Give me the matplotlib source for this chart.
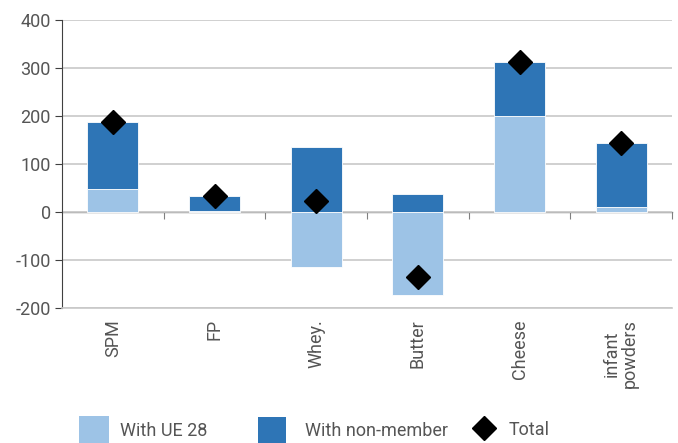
import matplotlib
matplotlib.use("Agg")
import matplotlib.pyplot as plt
from matplotlib.patches import Patch
from matplotlib.lines import Line2D
import numpy as np

categories = ["SPM", "FP", "Whey.", "Butter", "Cheese", "infant\npowders"]
ue28 = [47, 3, -114, -173, 200, 10]
non_member = [141, 30, 136, 37, 112, 133]
total = [188, 33, 22, -136, 312, 143]
yticks = [-200, -100, 0, 100, 200, 300, 400]

light = "#9DC3E6"
dark = "#2E75B6"
txt = "#555555"

plt.rcParams['font.family'] = ['Roboto', 'DejaVu Sans']
plt.rcParams['font.weight'] = 'normal'

W, H = 678, 443
fig = plt.figure(figsize=(W/100, H/100), dpi=100)
ax = fig.add_axes([62/W, 1-308/H, 610/W, 288/H])

x = np.arange(len(categories))
ue = np.array(ue28)
nm = np.array(non_member)
nm_bottom = np.where(ue > 0, ue, 0)
ax.bar(x, ue, width=0.5, color=light, edgecolor="white", linewidth=0.6, zorder=2)
ax.bar(x, nm, width=0.5, color=dark, edgecolor="white", linewidth=0.6, bottom=nm_bottom, zorder=2)
ax.plot(x, total, linestyle="none", marker="D", markersize=12, color="black", zorder=3)

ax.set_xlim(-0.5, len(x) - 0.5)
ax.set_ylim(-200, 400)
ax.set_yticks(yticks)
ax.set_yticklabels([str(v) for v in yticks], fontsize=13, color=txt)
ax.yaxis.grid(True, color="#C8C8C8", linewidth=1.2, zorder=0)
ax.set_axisbelow(True)
ax.tick_params(axis="y", direction="out", length=5, color="#404040", pad=3)

ax.set_xticks(x)
ax.set_xticklabels(categories, rotation=90, fontsize=13, color=txt, va="top", ha="center", linespacing=1.0)
ax.tick_params(axis="x", length=0, pad=8)

for s in ["top", "right"]:
    ax.spines[s].set_visible(False)
ax.spines["bottom"].set_color("#C8C8C8")
ax.spines["bottom"].set_linewidth(1.2)
ax.spines["left"].set_color("#404040")

# zero line with category-boundary ticks
sec = ax.secondary_xaxis(1/3)
sec.set_xticks(np.arange(len(x)) + 0.5)
sec.set_xticklabels([])
sec.tick_params(direction="out", length=5, color="#808080")
sec.spines["bottom"].set_color("#808080")
sec.spines["bottom"].set_linewidth(1.0)

fs = 13
items = [
    (Patch(facecolor=light, edgecolor="none"), "With UE 28", 79, 1.65, 2.0, 0.6),
    (Patch(facecolor=dark, edgecolor="none"), "With non-member", 258, 1.55, 1.8, 1.05),
    (Line2D([], [], linestyle="none", marker="D", markersize=12, color="black"), "Total", 475, 1.0, 1.0, 0.85),
]
for h, lab, xl, hl, hh, pad in items:
    fig.legend([h], [lab], loc="center left", bbox_to_anchor=(xl/W, 1-430/H),
               frameon=False, fontsize=fs, handlelength=hl, handleheight=hh,
               handletextpad=pad, borderpad=0, borderaxespad=0, labelcolor=txt)

fig.savefig("out.png", dpi=100)
